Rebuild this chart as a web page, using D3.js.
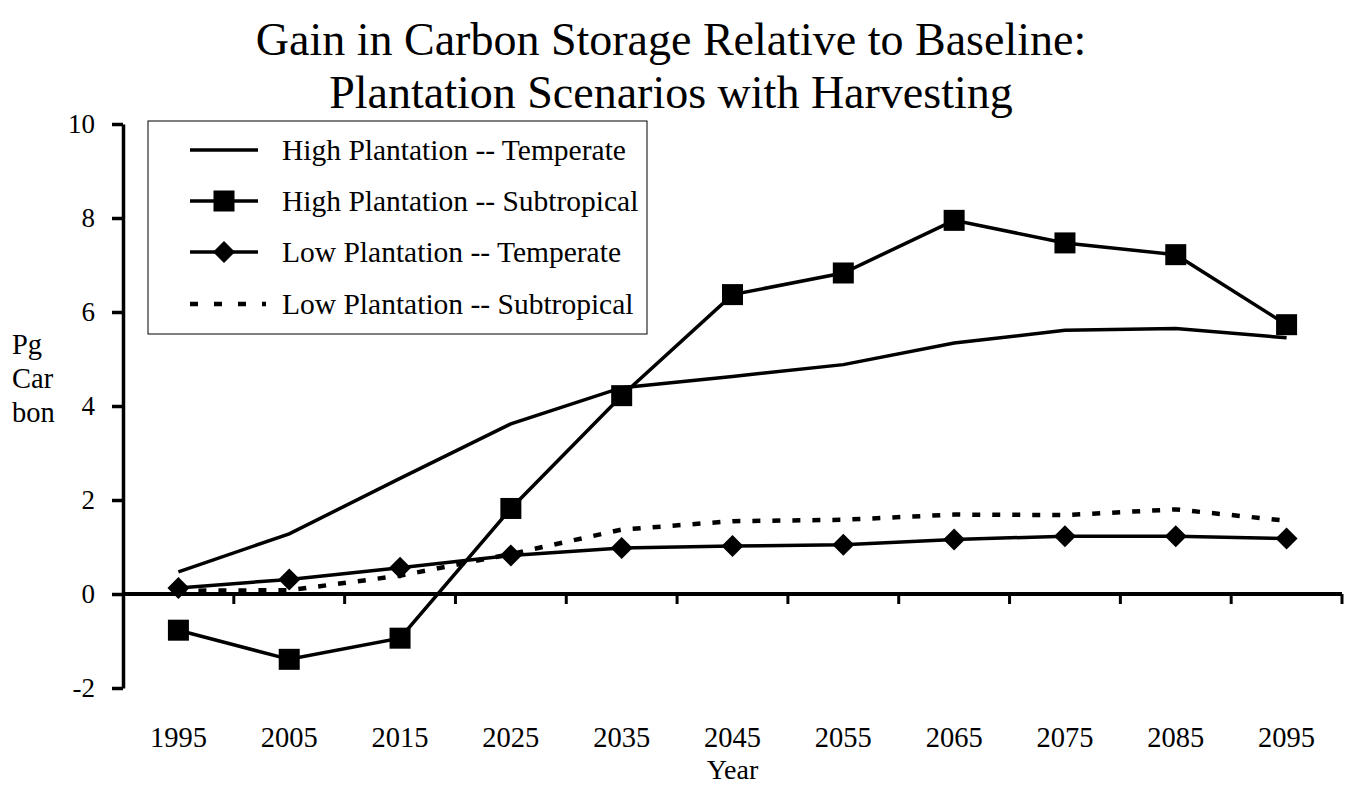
<!DOCTYPE html>
<html>
<head>
<meta charset="utf-8">
<script src="https://cdn.jsdelivr.net/npm/d3@7"></script>
<style>
  html, body { margin: 0; padding: 0; background: #fff; }
  svg { display: block; font-family: "Liberation Serif", "Times New Roman", serif; }
</style>
</head>
<body>
<svg id="chart" width="1345" height="791"></svg>
<script>
const years = ["1995","2005","2015","2025","2035","2045","2055","2065","2075","2085","2095"];
const yTicks = [-2, 0, 2, 4, 6, 8, 10];
const titleLines = ["Gain in Carbon Storage Relative to Baseline:", "Plantation Scenarios with Harvesting"];
const seriesNames = ["High Plantation -- Temperate", "High Plantation -- Subtropical", "Low Plantation -- Temperate", "Low Plantation -- Subtropical"];
const highTemperate = [0.47, 1.28, 2.46, 3.62, 4.39, 4.63, 4.88, 5.34, 5.61, 5.65, 5.45];
const highSubtropical = [-0.77, -1.39, -0.94, 1.82, 4.22, 6.37, 6.83, 7.95, 7.47, 7.22, 5.73];
const lowTemperate = [0.13, 0.31, 0.56, 0.82, 0.98, 1.02, 1.05, 1.16, 1.23, 1.23, 1.18];
const lowSubtropical = [0.07, 0.08, 0.39, 0.85, 1.37, 1.55, 1.58, 1.69, 1.68, 1.80, 1.56];
const yLabelLines = ["Pg", "Car", "bon"];
const xTitle = "Year";

const series = [
  {name: seriesNames[0], values: highTemperate, marker: "none", dash: null},
  {name: seriesNames[1], values: highSubtropical, marker: "square", dash: null},
  {name: seriesNames[2], values: lowTemperate, marker: "diamond", dash: null},
  {name: seriesNames[3], values: lowSubtropical, marker: "none", dash: "8,12"}
];

const svg = d3.select("#chart");
const plotLeft = 123, plotRight = 1342, plotTop = 124, plotBottom = 688;

const xBand = d3.scaleBand().domain(years).range([plotLeft, plotRight]);
const x = d => xBand(d) + xBand.bandwidth() / 2;
const y = d3.scaleLinear().domain([-2, 10]).range([plotBottom, plotTop]);

// Title
svg.selectAll("text.title").data(titleLines).enter().append("text")
  .attr("class", "title")
  .attr("x", 671).attr("y", (d, i) => 55 + i * 53)
  .attr("text-anchor", "middle")
  .attr("font-size", 46)
  .text(d => d);

// Y axis
const yAxis = d3.axisLeft(y).tickValues(yTicks).tickSize(11).tickSizeOuter(0).tickPadding(17)
  .tickFormat(d => String(d));
const gy = svg.append("g").attr("transform", `translate(${plotLeft},0)`).call(yAxis);
gy.select(".domain").attr("stroke", "#000").attr("stroke-width", 3.5);
gy.selectAll(".tick line").attr("stroke", "#000").attr("stroke-width", 3.5);
gy.selectAll(".tick text").attr("font-size", 27).attr("fill", "#000")
  .attr("font-family", "Liberation Serif, Times New Roman, serif");

// X axis (zero line) with ticks at category boundaries
const gx = svg.append("g");
gx.append("line")
  .attr("x1", plotLeft).attr("x2", plotRight)
  .attr("y1", y(0)).attr("y2", y(0))
  .attr("stroke", "#000").attr("stroke-width", 4);
gx.selectAll("line.xt").data(years).enter().append("line")
  .attr("class", "xt")
  .attr("x1", d => xBand(d) + xBand.bandwidth()).attr("x2", d => xBand(d) + xBand.bandwidth())
  .attr("y1", y(0)).attr("y2", y(0) + 10)
  .attr("stroke", "#000").attr("stroke-width", 3);

// X labels at bottom
svg.selectAll("text.xl").data(years).enter().append("text")
  .attr("class", "xl")
  .attr("x", d => x(d)).attr("y", 747)
  .attr("text-anchor", "middle")
  .attr("font-size", 28.5)
  .text(d => d);

svg.append("text").attr("x", x("2045")).attr("y", 779)
  .attr("text-anchor", "middle").attr("font-size", 28).text(xTitle);

// Y label
svg.selectAll("text.yl").data(yLabelLines).enter().append("text")
  .attr("class", "yl")
  .attr("x", 12).attr("y", (d, i) => 354 + i * 34)
  .attr("font-size", 28.5)
  .text(d => d);

// Lines
const line = d3.line().x((d, i) => x(years[i])).y(d => y(d));
const gLines = svg.append("g");
series.forEach(s => {
  gLines.append("path")
    .attr("d", line(s.values))
    .attr("fill", "none")
    .attr("stroke", "#000")
    .attr("stroke-width", s.dash ? 4.5 : 3.5)
    .attr("stroke-dasharray", s.dash);
});

function drawMarker(g, type, cx, cy) {
  if (type === "square") {
    g.append("rect").attr("x", cx - 10.5).attr("y", cy - 10.5)
      .attr("width", 21).attr("height", 21).attr("fill", "#000");
  } else if (type === "diamond") {
    g.append("path")
      .attr("d", `M${cx},${cy - 11}L${cx + 11},${cy}L${cx},${cy + 11}L${cx - 11},${cy}Z`)
      .attr("fill", "#000");
  }
}
series.forEach(s => {
  s.values.forEach((v, i) => drawMarker(gLines, s.marker, x(years[i]), y(v)));
});

// Legend
const lg = svg.append("g");
lg.append("rect").attr("x", 148).attr("y", 121).attr("width", 499).attr("height", 213)
  .attr("fill", "#fff").attr("stroke", "#000").attr("stroke-width", 1);
const rowY = [150, 201, 252, 304];
series.forEach((s, i) => {
  lg.append("line")
    .attr("x1", 190).attr("x2", s.dash ? 266 : 258)
    .attr("y1", rowY[i]).attr("y2", rowY[i])
    .attr("stroke", "#000")
    .attr("stroke-width", s.dash ? 4.5 : 3.5)
    .attr("stroke-dasharray", s.dash ? "8,16" : null);
  drawMarker(lg, s.marker, 224, rowY[i]);
  lg.append("text").attr("x", 282).attr("y", rowY[i] + 10)
    .attr("font-size", 29.5).text(s.name);
});
</script>
</body>
</html>
